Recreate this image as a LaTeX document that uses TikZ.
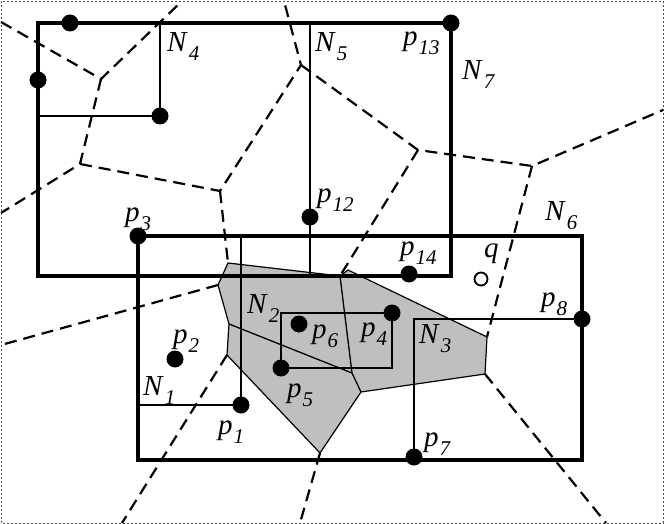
\documentclass[tikz,border=0pt]{standalone}
\usepackage{fontspec}
\setmainfont{Liberation Serif}
\usetikzlibrary{calc}
\newcommand{\lab}[2]{\textit{#1}\kern1pt\raisebox{-9pt}{\fontsize{21}{21}\selectfont\textit{#2}}}

\begin{document}
\begin{tikzpicture}[x=1pt,y=-1pt,
  mbr/.style={line width=3.2pt},
  box/.style={line width=1.3pt},
  vor/.style={line width=2.2pt,dash pattern=on 12pt off 7pt},
  cell/.style={fill=black!25,draw,line width=1.2pt,line join=round},
  dot/.style={fill=black},
  txt/.style={anchor=base west,inner sep=0pt,font=\fontsize{29}{29}\selectfont}]
\useasboundingbox (0,0) rectangle (664,524);
\draw[line width=0.5pt,dash pattern=on 2pt off 2pt,black!70] (1,1) rectangle (663,523);

% Voronoi vertices
\coordinate (v1) at (101,79);  \coordinate (v2) at (80,164);
\coordinate (v3) at (220,191); \coordinate (v4) at (301,65);
\coordinate (v5) at (418,150); \coordinate (v6) at (532,166);
% cell vertices
\coordinate (g1) at (228,263); \coordinate (g2) at (218,285);
\coordinate (g3) at (229,324); \coordinate (g4) at (227,355);
\coordinate (g5) at (320,453); \coordinate (g6) at (361,392);
\coordinate (g7) at (485,374); \coordinate (g8) at (487,337);
\coordinate (g9) at (348,270); \coordinate (ga) at (340,276);
\coordinate (gb) at (352,373);
% ends on the frame
\coordinate (e1) at (1,22);    \coordinate (e2) at (182,1);
\coordinate (e3) at (1,213);   \coordinate (e4) at (284,1);
\coordinate (e5) at (663,110); \coordinate (e6) at (606,523);
\coordinate (e7) at (300,523); \coordinate (e8) at (122,523);
\coordinate (e9) at (1,345);

% Voronoi edges
\draw[vor] (e1) -- (v1) -- (e2);
\draw[vor] (v1) -- (v2) -- (e3);
\draw[vor] (v2) -- (v3) -- (v4) -- (e4);
\draw[vor] (v4) -- (v5) -- (v6) -- (e5);
\draw[vor] (v3) -- (g1);
\draw[vor] (v5) -- (ga);
\draw[vor] (v6) -- (g8);
\draw[vor] (g7) -- (e6);
\draw[vor] (g5) -- (e7);
\draw[vor] (g4) -- (e8);
\draw[vor] (g2) -- (e9);

% cells of the answer
\draw[cell] (g1) -- (ga) -- (g9) -- (g8) -- (g7) -- (g6) -- (g5) -- (g4) -- (g3) -- (g2) -- cycle;
\draw[box] (ga) -- (gb) -- (g6);
\draw[box] (g3) -- (gb);

% points
\coordinate (u1) at (70,23);   \coordinate (u2) at (38,80);
\coordinate (u3) at (160,116);
\coordinate (p1) at (241,405); \coordinate (p2) at (175,359);
\coordinate (p3) at (138,236); \coordinate (p4) at (392,313);
\coordinate (p5) at (281,368); \coordinate (p6) at (299,324);
\coordinate (p7) at (414,457); \coordinate (p8) at (582,319);
\coordinate (p12) at (310,217); \coordinate (p13) at (451,23);
\coordinate (p14) at (409,274); \coordinate (q) at (481,279);

% leaf MBRs
\draw[box] (38,116) -- (u3) -- (160,23);
\draw[box] (310,23) -- (p12) -- (310,276);
\draw[box] (138,405) -- (p1) -- (241,236);
\draw[box] (p5 |- p4) rectangle (p4 |- p5);
\draw[box] (p7) -- (p7 |- p8) -- (p8);

% upper MBRs
\draw[mbr] (38,23) rectangle (451,276);
\draw[mbr] (138,236) rectangle (582,460);

\foreach \p in {u1,u2,u3,p1,p2,p3,p4,p5,p6,p7,p8,p12,p13,p14}
  \fill[dot] (\p) circle (8.5pt);
\draw[line width=1.8pt,fill=white] (q) circle (6.5pt);

% labels
\node[txt] (lN4) at (167,52) {\lab{N}{4}};
\node[txt] (lN5) at (315,52) {\lab{N}{5}};
\node[txt] (lp13) at (403,46) {\lab{p}{13}};
\node[txt] (lN7) at (462,80) {\lab{N}{7}};
\node[txt] (lp12) at (317,202) {\lab{p}{12}};
\node[txt] (lp3) at (125,221) {\lab{p}{3}};
\node[txt] (lN6) at (545,220) {\lab{N}{6}};
\node[txt] (lp14) at (400,255) {\lab{p}{14}};
\node[txt] (lq) at (484,257) {\textit{q}};
\node[txt] (lp8) at (541,306) {\lab{p}{8}};
\node[txt] (lN2) at (247,313) {\lab{N}{2}};
\node[txt] (lp6) at (312,338) {\lab{p}{6}};
\node[txt] (lp4) at (361,336) {\lab{p}{4}};
\node[txt] (lN3) at (419,343) {\lab{N}{3}};
\node[txt] (lp2) at (173,343) {\lab{p}{2}};
\node[txt] (lN1) at (143,395) {\lab{N}{1}};
\node[txt] (lp5) at (287,397) {\lab{p}{5}};
\node[txt] (lp1) at (218,434) {\lab{p}{1}};
\node[txt] (lp7) at (424,446) {\lab{p}{7}};
\end{tikzpicture}
\end{document}
